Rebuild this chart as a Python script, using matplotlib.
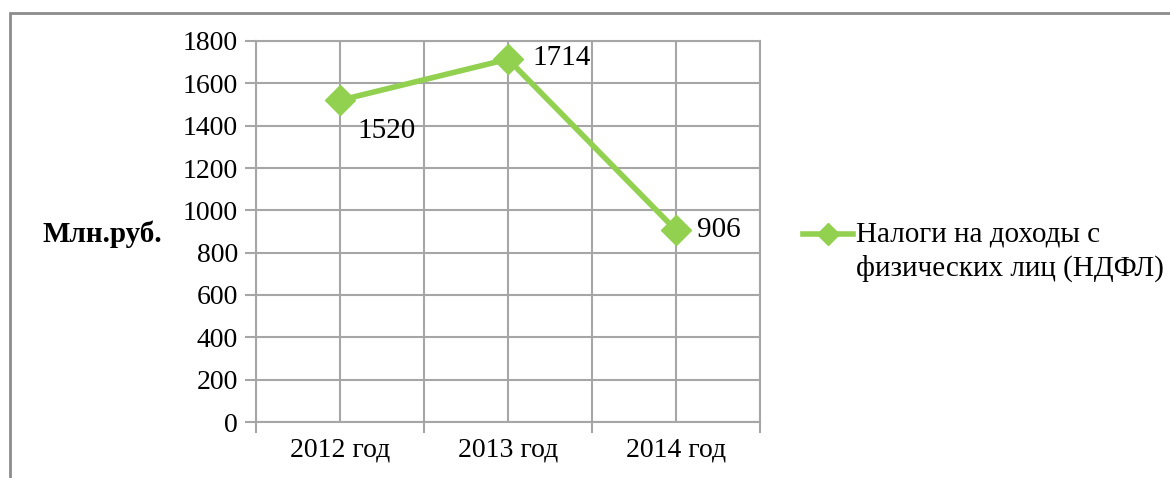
import numpy as np
import matplotlib.pyplot as plt
from matplotlib.patches import Rectangle

plt.rcParams['font.family'] = ['Liberation Serif', 'DejaVu Serif']

# ============================================================
# DONNEES
# ============================================================
categories = ['2012 год', '2013 год', '2014 год']
valeurs = [1520, 1714, 906]
serie_nom = 'Налоги на доходы с\nфизических лиц (НДФЛ)'
y_ticks = list(range(0, 1801, 200))
label_offsets = [(17, -31), (24, 1), (21, 0)]  # decalage des etiquettes (px)

vert = '#92D050'
gris = '#A6A6A6'
fs_ticks = 20
fs_labels = 21

fig = plt.figure(figsize=(11.7, 4.78), dpi=100)
fig.patch.set_facecolor('white')

# cadre du graphique (seuls haut et gauche visibles)
fig.add_artist(Rectangle((10 / 1170, -0.1), 1.2, 1 - 13 / 478 + 0.1,
                         transform=fig.transFigure, fill=False,
                         edgecolor='#8C8C8C', linewidth=2))

ax = fig.add_axes([256 / 1170, 1 - 422 / 478, 504 / 1170, 381 / 478])
x = np.arange(len(categories))

ax.set_xlim(-0.5, len(categories) - 0.5)
ax.set_ylim(0, 1800)
ax.set_yticks(y_ticks)
ax.set_yticklabels([str(v) for v in y_ticks], fontsize=fs_ticks)

# graduations aux limites des categories, etiquettes au centre
ax.set_xticks(np.arange(-0.5, len(categories)), minor=False)
ax.set_xticklabels([''] * (len(categories) + 1))
ax.set_xticks(x, minor=True)
ax.set_xticklabels(categories, minor=True, fontsize=fs_ticks)
ax.tick_params(axis='x', which='minor', length=0, pad=11)
ax.tick_params(axis='x', which='major', length=8, width=1.5, color=gris)
ax.tick_params(axis='y', length=8, width=1.5, color=gris, pad=5)

# grille
ax.grid(True, which='major', axis='both', color=gris, linewidth=1.5)
ax.grid(True, which='minor', axis='x', color=gris, linewidth=1.5)
ax.set_axisbelow(True)
for s in ax.spines.values():
    s.set_color(gris)
    s.set_linewidth(1.5)

# serie
ax.plot(x, valeurs, color=vert, linewidth=4, marker='D', markersize=15,
        label=serie_nom, zorder=3, clip_on=False)

for xi, v, (dx, dy) in zip(x, valeurs, label_offsets):
    ax.annotate(str(v), (xi, v), xytext=(dx, dy), textcoords='offset pixels',
                ha='left', va='center', fontsize=fs_labels)

fig.text(102 / 1170, 1 - 234 / 478, 'Млн.руб.', fontsize=fs_labels,
         fontweight='bold', ha='center', va='center')

leg = ax.legend(loc='upper left', bbox_to_anchor=(803 / 1170, 1 - 222 / 478),
                bbox_transform=fig.transFigure, frameon=False, fontsize=fs_labels,
                handlelength=1.72, handleheight=1.0, handletextpad=0.1,
                borderpad=0, borderaxespad=0, markerscale=0.75)
leg.texts[0].set_linespacing(1.3)
# aligner le symbole sur la premiere ligne du libelle
leg._legend_handle_box.get_children()[0].get_children()[0].align = 'top'

plt.savefig('out.png', dpi=100, facecolor='white')
